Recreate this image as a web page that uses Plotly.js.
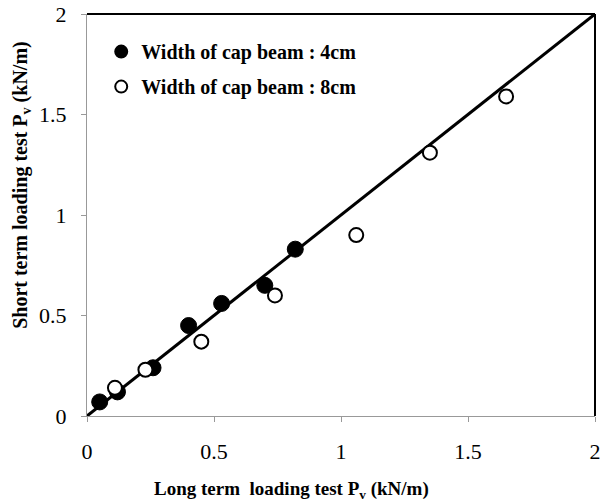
<!DOCTYPE html>
<html>
<head>
<meta charset="utf-8">
<script src="https://cdn.plot.ly/plotly-3.0.1.min.js"></script>
<style>html,body{margin:0;padding:0;background:#fff;}#chart{width:601px;height:504px;}</style>
</head>
<body>
<div id="chart"></div>
<script>
// Width of cap beam : 4cm (filled)
const x4 = [0.05, 0.12, 0.26, 0.40, 0.53, 0.70, 0.82];
const y4 = [0.07, 0.12, 0.24, 0.45, 0.56, 0.65, 0.83];
// Width of cap beam : 8cm (open)
const x8 = [0.11, 0.23, 0.45, 0.74, 1.06, 1.35, 1.65];
const y8 = [0.14, 0.23, 0.37, 0.60, 0.90, 1.31, 1.59];
// 1:1 line
const lineX = [0, 2];
const lineY = [0, 2];
const tickVals = [0, 0.5, 1, 1.5, 2];
const tickText = ['0', '0.5', '1', '1.5', '2'];
const xTitle = '<b>Long term  loading test P<sub>v</sub> (kN/m)</b>';
const yTitle = '<b>Short term loading test P<sub>v</sub> (kN/m)</b>';

const serif = 'Liberation Serif';

const traces = [
  {x: lineX, y: lineY, mode: 'lines', line: {color: '#000', width: 3}, showlegend: false, hoverinfo: 'skip'},
  {x: x4, y: y4, mode: 'markers', name: '<b>Width of cap beam : 4cm</b>', legendgroup: 'a',
   marker: {symbol: 'circle', size: 16, color: '#000', line: {color: '#000', width: 1}}},
  {x: x8, y: y8, mode: 'markers', name: '<b>Width of cap beam : 8cm</b>', legendgroup: 'b',
   marker: {symbol: 'circle', size: 14, color: '#fff', line: {color: '#000', width: 2}}}
];

const layout = {
  width: 601, height: 504,
  margin: {l: 87, r: 6, t: 14, b: 88},
  paper_bgcolor: '#fff', plot_bgcolor: '#fff',
  font: {family: serif, color: '#000'},
  showlegend: true,
  legend: {x: 0.028, y: 0.955, xanchor: 'left', yanchor: 'top', bgcolor: 'rgba(0,0,0,0)',
           font: {family: serif, size: 20, color: '#000'}, traceorder: 'grouped', tracegroupgap: 6,
           itemsizing: 'constant'},
  xaxis: {range: [0, 2], tickvals: tickVals, ticktext: tickText, showgrid: false, zeroline: false,
          showline: true, linecolor: '#999', linewidth: 1, ticks: 'outside', ticklen: 5, tickcolor: '#999',
          ticklabelstandoff: 11,
          tickfont: {family: serif, size: 22, color: '#000'}},
  yaxis: {range: [0, 2], tickvals: tickVals, ticktext: tickText, showgrid: false, zeroline: false,
          showline: true, linecolor: '#999', linewidth: 1, ticks: 'outside', ticklen: 5, tickcolor: '#999',
          ticklabelstandoff: 10,
          tickfont: {family: serif, size: 22, color: '#000'}},
  annotations: [
    {text: xTitle, xref: 'paper', yref: 'paper', x: 0.402, y: -0.184, xanchor: 'center', yanchor: 'middle',
     showarrow: false, font: {family: serif, size: 19, color: '#000'}},
    {text: yTitle, xref: 'paper', yref: 'paper', x: -0.128, y: 0.575, xanchor: 'center', yanchor: 'middle',
     textangle: -90, showarrow: false, font: {family: serif, size: 20, color: '#000'}}
  ],
  shapes: [
    {type: 'line', xref: 'paper', yref: 'paper', x0: 0, x1: 1, y0: 1, y1: 1, line: {color: '#000', width: 2}},
    {type: 'line', xref: 'paper', yref: 'paper', x0: 1, x1: 1, y0: 0, y1: 1, line: {color: '#000', width: 2}}
  ]
};

Plotly.newPlot('chart', traces, layout, {displayModeBar: false, staticPlot: true});
</script>
</body>
</html>
